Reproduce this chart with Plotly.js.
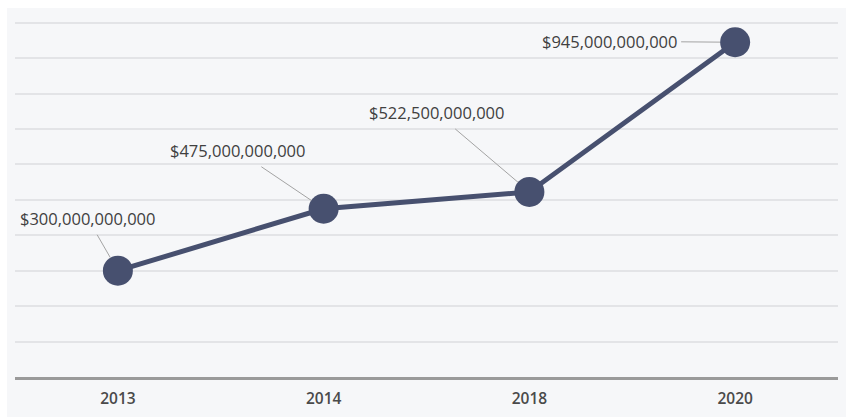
<!DOCTYPE html>
<html>
<head>
<meta charset="utf-8">
<script src="https://cdn.plot.ly/plotly-3.0.1.min.js"></script>
<style>
html,body{margin:0;padding:0;background:#ffffff;}
#chart{position:absolute;left:7px;top:8px;width:839px;height:409px;}
</style>
</head>
<body>
<div id="chart"></div>
<script>
var years = ["2013", "2014", "2018", "2020"];
var values = [300000000000, 475000000000, 522500000000, 945000000000];
var labels = ["$300,000,000,000", "$475,000,000,000", "$522,500,000,000", "$945,000,000,000"];
var labelOffsetX = [-30, -86, -93, -126];
var labelOffsetY = [-52, -58, -79, -1];

var trace = {
  x: years,
  y: values,
  type: "scatter",
  mode: "lines+markers",
  line: {color: "#47506f", width: 5},
  marker: {color: "#47506f", size: 30},
  hoverinfo: "none"
};

var annotations = [];
for (var i = 0; i < years.length; i++) {
  annotations.push({
    x: i, y: values[i], xref: "x", yref: "y",
    text: labels[i],
    showarrow: true, arrowhead: 0, arrowwidth: 1, arrowcolor: "#a3a3a3",
    ax: labelOffsetX[i], ay: labelOffsetY[i],
    axref: "pixel", ayref: "pixel",
    standoff: 15,
    borderpad: 4,
    font: {family: "Open Sans", size: 16.5, color: "#404040"}
  });
}

var layout = {
  width: 839, height: 409,
  margin: {l: 8, r: 8, t: 13, b: 40},
  paper_bgcolor: "#f6f7f9",
  plot_bgcolor: "#f6f7f9",
  showlegend: false,
  xaxis: {
    type: "category",
    range: [-0.5, 3.5],
    showgrid: false,
    zeroline: false,
    showline: true, linecolor: "#9a9a9a", linewidth: 2.5,
    ticks: "",
    tickfont: {family: "Open Sans", size: 15.5, color: "#4a4a4a", weight: 600},
    ticklabelstandoff: 6,
    fixedrange: true
  },
  yaxis: {
    range: [0, 1005000000000],
    dtick: 100000000000,
    tick0: 0,
    showgrid: true, gridcolor: "#e3e4e7", gridwidth: 1.5,
    zeroline: false,
    showticklabels: false,
    ticks: "",
    fixedrange: true
  },
  annotations: annotations
};

Plotly.newPlot("chart", [trace], layout, {displayModeBar: false}).catch(function(e){document.body.insertAdjacentHTML('beforeend','<pre>'+e+'</pre>');});
</script>
</body>
</html>
